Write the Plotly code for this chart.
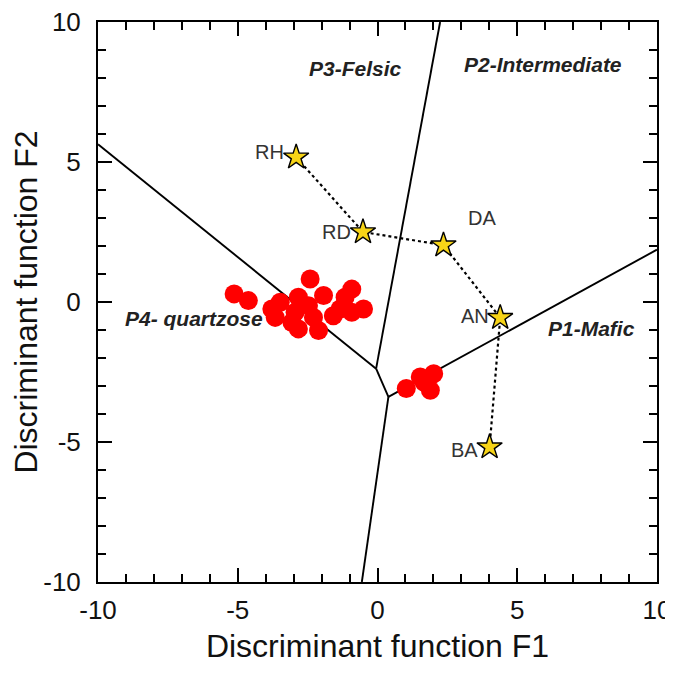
import plotly.graph_objects as go

# Field boundary lines (discriminant diagram)
boundary_x = [[-10, -0.05], [-0.05, 2.24], [-0.05, 0.39], [0.39, 10], [0.39, -0.56]]
boundary_y = [[5.63, -2.38], [-2.38, 10], [-2.38, -3.39], [-3.39, 1.87], [-3.39, -10]]

# Sample data (red dots)
sample_f1 = [-5.13, -4.62, -3.78, -3.48, -3.66, -2.41, -2.83, -2.95, -3.06, -2.83,
             -2.47, -2.29, -2.11, -1.93, -1.58, -1.16, -0.92, -1.34, -0.92, -0.50,
             1.03, 1.53, 2.01, 1.89, 1.67]
sample_f2 = [0.29, 0.05, -0.25, -0.01, -0.55, 0.82, 0.17, -0.37, -0.73, -0.96,
             -0.13, -0.55, -1.02, 0.23, -0.49, 0.17, 0.46, -0.25, -0.37, -0.25,
             -3.09, -2.68, -2.56, -3.15, -2.87]

# Reference rock compositions (stars)
ref_names = ["RH", "RD", "DA", "AN", "BA"]
ref_f1 = [-2.91, -0.52, 2.36, 4.39, 4.01]
ref_f2 = [5.17, 2.50, 2.03, -0.56, -5.18]

# Field labels
field_names = ["P3-Felsic", "P2-Intermediate", "P4- quartzose", "P1-Mafic"]
field_x = [-0.8, 5.93, -6.55, 7.67]
field_y = [8.35, 8.5, -0.58, -0.94]

# Tick labels
tick_vals = [-10, -5, 0, 5, 10]
tick_text = ["-10", "-5", "0", "5", "10"]

FONT = "Liberation Sans, Arial"

fig = go.Figure()

for bx, by in zip(boundary_x, boundary_y):
    fig.add_trace(go.Scatter(x=bx, y=by, mode="lines",
                             line=dict(color="black", width=1.9),
                             showlegend=False, hoverinfo="skip"))

fig.add_trace(go.Scatter(x=sample_f1, y=sample_f2, mode="markers",
                         marker=dict(color="#ff0000", size=19, line=dict(width=0)),
                         showlegend=False))

fig.add_trace(go.Scatter(x=ref_f1, y=ref_f2, mode="lines",
                         line=dict(color="black", width=2.2, dash="3px,3px"),
                         showlegend=False, hoverinfo="skip"))
fig.add_trace(go.Scatter(x=ref_f1, y=ref_f2, mode="markers",
                         marker=dict(symbol="star", color="#f7d417", size=19,
                                     line=dict(color="black", width=1.4)),
                         showlegend=False))

# star labels (offsets in data units)
label_pos = {"RH": ("left", -0.38, 0.18), "RD": ("left", -0.34, 0.0),
             "DA": ("center", 1.39, 0.96), "AN": ("left", -0.32, 0.05),
             "BA": ("left", -0.36, -0.12)}
for n, x, y in zip(ref_names, ref_f1, ref_f2):
    side, dx, dy = label_pos[n]
    fig.add_annotation(x=x + dx, y=y + dy, text=n, showarrow=False,
                       xanchor="right" if side == "left" else "center",
                       font=dict(family=FONT, size=20, color="#333"))

for n, x, y in zip(field_names, field_x, field_y):
    fig.add_annotation(x=x, y=y, text="<b><i>" + n + "</i></b>", showarrow=False,
                       font=dict(family=FONT, size=21, color="#222"))

axis_common = dict(range=[-10, 10], tickmode="array", tickvals=tick_vals, ticktext=tick_text,
                   ticks="inside", ticklen=14, tickwidth=1.6, automargin=False,
                   ticklabeloverflow="allow",
                   tickcolor="black", showline=True, linecolor="black", linewidth=2,
                   mirror="allticks", showgrid=False, zeroline=False,
                   tickfont=dict(family=FONT, size=26, color="#111"),
                   minor=dict(ticks="inside", ticklen=8, dtick=1, tickwidth=1.6,
                              tickcolor="black", showgrid=False))

fig.update_xaxes(**axis_common, ticklabelstandoff=4,
                 title=dict(text="Discriminant function F1", standoff=10,
                            font=dict(family=FONT, size=32, color="#111")))
fig.update_yaxes(**axis_common, ticklabelstandoff=10,
                 title=dict(text="Discriminant function F2", standoff=6,
                            font=dict(family=FONT, size=32, color="#111")))

fig.update_layout(width=665, height=672,
                  margin=dict(l=90, r=16, t=14, b=98),
                  plot_bgcolor="white", paper_bgcolor="white")

fig.write_html("out.html")
